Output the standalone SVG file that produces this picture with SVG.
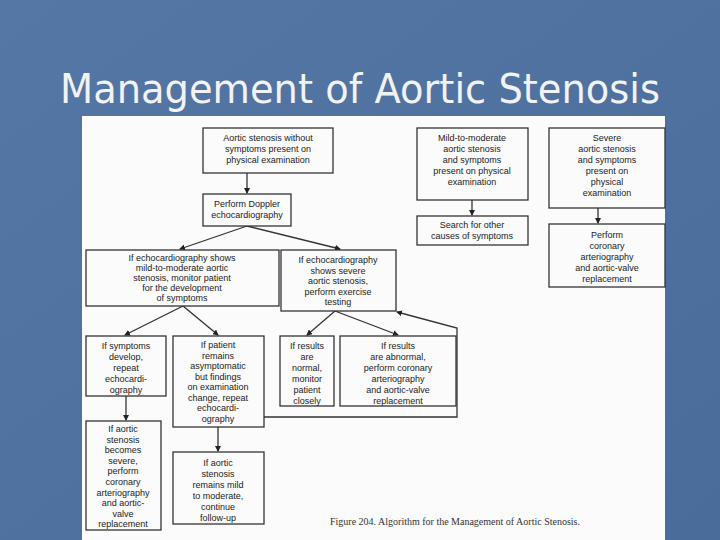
<svg xmlns="http://www.w3.org/2000/svg" width="720" height="540" viewBox="0 0 720 540">
<defs>
<linearGradient id="bg" x1="0" y1="0" x2="1" y2="1"><stop offset="0" stop-color="#5577a6"/><stop offset="1" stop-color="#4a6c9b"/></linearGradient>
<marker id="ah" markerWidth="6" markerHeight="6" refX="5" refY="3" orient="auto" markerUnits="userSpaceOnUse"><path d="M0,0 L6,3 L0,6 z" fill="#222"/></marker>
</defs>
<style>
.b{fill:#fbfbfb;stroke:#333;stroke-width:1.3}
.t{font-family:"Liberation Sans",Arial,sans-serif;font-size:9px;fill:#222;text-anchor:middle}
.c{fill:none;stroke:#333;stroke-width:1.3;marker-end:url(#ah)}
</style>
<rect width="720" height="540" fill="url(#bg)"/>
<text x="60" y="103" font-family="DejaVu Sans,sans-serif" font-size="40" fill="#f2f2f2" textLength="600" lengthAdjust="spacingAndGlyphs">Management of Aortic Stenosis</text>
<rect x="82" y="116" width="583" height="424" fill="#fbfbfb"/>
<g id="connectors">
<path class="c" d="M247,173 V193"/>
<path class="c" d="M247,226 L180,249"/>
<path class="c" d="M247,226 L340,249"/>
<path class="c" d="M183,306 L125,335"/>
<path class="c" d="M183,306 L218,335"/>
<path class="c" d="M335,311 L307,335"/>
<path class="c" d="M335,311 L398,335"/>
<path class="c" d="M126,396 V420"/>
<path class="c" d="M218,427 V451"/>
<path class="c" d="M264,417 H457 V328 L397,312"/>
<path class="c" d="M472,200 V215"/>
<path class="c" d="M598,208 V223"/>
</g>
<g id="nA"><rect class="b" x="203" y="128" width="130" height="45"/><text class="t" x="268" y="141">Aortic stenosis without<tspan x="268" dy="11">symptoms present on</tspan><tspan x="268" dy="11">physical examination</tspan></text></g>
<g id="nB"><rect class="b" x="203" y="194" width="88" height="32"/><text class="t" x="247" y="207">Perform Doppler<tspan x="247" dy="11">echocardiography</tspan></text></g>
<g id="nC"><rect class="b" x="86" y="250" width="193" height="56"/><text class="t" x="182" y="261">If echocardiography shows<tspan x="182" dy="10">mild-to-moderate aortic</tspan><tspan x="182" dy="10">stenosis, monitor patient</tspan><tspan x="182" dy="10">for the development</tspan><tspan x="182" dy="10">of symptoms</tspan></text></g>
<g id="nD"><rect class="b" x="281" y="250" width="115" height="61"/><text class="t" x="338" y="263">If echocardiography<tspan x="338" dy="10.5">shows severe</tspan><tspan x="338" dy="10.5">aortic stenosis,</tspan><tspan x="338" dy="10.5">perform exercise</tspan><tspan x="338" dy="10.5">testing</tspan></text></g>
<g id="nE"><rect class="b" x="417" y="128" width="111" height="72"/><text class="t" x="472" y="141">Mild-to-moderate<tspan x="472" dy="11">aortic stenosis</tspan><tspan x="472" dy="11">and symptoms</tspan><tspan x="472" dy="11">present on physical</tspan><tspan x="472" dy="11">examination</tspan></text></g>
<g id="nF"><rect class="b" x="417" y="216" width="111" height="29"/><text class="t" x="472" y="228">Search for other<tspan x="472" dy="11">causes of symptoms</tspan></text></g>
<g id="nG"><rect class="b" x="549" y="128" width="116" height="80"/><text class="t" x="607" y="141">Severe<tspan x="607" dy="11">aortic stenosis</tspan><tspan x="607" dy="11">and symptoms</tspan><tspan x="607" dy="11">present on</tspan><tspan x="607" dy="11">physical</tspan><tspan x="607" dy="11">examination</tspan></text></g>
<g id="nH"><rect class="b" x="549" y="224" width="116" height="63"/><text class="t" x="607" y="238">Perform<tspan x="607" dy="11">coronary</tspan><tspan x="607" dy="11">arteriography</tspan><tspan x="607" dy="11">and aortic-valve</tspan><tspan x="607" dy="11">replacement</tspan></text></g>
<g id="nI"><rect class="b" x="86" y="336" width="80" height="60"/><text class="t" x="126" y="349">If symptoms<tspan x="126" dy="11">develop,</tspan><tspan x="126" dy="11">repeat</tspan><tspan x="126" dy="11">echocardi-</tspan><tspan x="126" dy="11">ography</tspan></text></g>
<g id="nJ"><rect class="b" x="173" y="336" width="91" height="91"/><text class="t" x="218" y="348">If patient<tspan x="218" dy="10.5">remains</tspan><tspan x="218" dy="10.5">asymptomatic</tspan><tspan x="218" dy="10.5">but findings</tspan><tspan x="218" dy="10.5">on examination</tspan><tspan x="218" dy="10.5">change, repeat</tspan><tspan x="218" dy="10.5">echocardi-</tspan><tspan x="218" dy="10.5">ography</tspan></text></g>
<g id="nK"><rect class="b" x="280" y="336" width="54" height="70"/><text class="t" x="307" y="349">If results<tspan x="307" dy="11">are</tspan><tspan x="307" dy="11">normal,</tspan><tspan x="307" dy="11">monitor</tspan><tspan x="307" dy="11">patient</tspan><tspan x="307" dy="11">closely</tspan></text></g>
<g id="nL"><rect class="b" x="340" y="336" width="116" height="70"/><text class="t" x="398" y="349">If results<tspan x="398" dy="11">are abnormal,</tspan><tspan x="398" dy="11">perform coronary</tspan><tspan x="398" dy="11">arteriography</tspan><tspan x="398" dy="11">and aortic-valve</tspan><tspan x="398" dy="11">replacement</tspan></text></g>
<g id="nM"><rect class="b" x="86" y="421" width="75" height="109"/><text class="t" x="123" y="432">If aortic<tspan x="123" dy="10.6">stenosis</tspan><tspan x="123" dy="10.6">becomes</tspan><tspan x="123" dy="10.6">severe,</tspan><tspan x="123" dy="10.6">perform</tspan><tspan x="123" dy="10.6">coronary</tspan><tspan x="123" dy="10.6">arteriography</tspan><tspan x="123" dy="10.6">and aortic-</tspan><tspan x="123" dy="10.6">valve</tspan><tspan x="123" dy="10.6">replacement</tspan></text></g>
<g id="nN"><rect class="b" x="173" y="452" width="91" height="72"/><text class="t" x="218" y="466">If aortic<tspan x="218" dy="11">stenosis</tspan><tspan x="218" dy="11">remains mild</tspan><tspan x="218" dy="11">to moderate,</tspan><tspan x="218" dy="11">continue</tspan><tspan x="218" dy="11">follow-up</tspan></text></g>
<text x="330" y="525" font-family="Liberation Serif,Times New Roman,serif" font-size="10" fill="#333">Figure 204. Algorithm for the Management of Aortic Stenosis.</text>
</svg>
